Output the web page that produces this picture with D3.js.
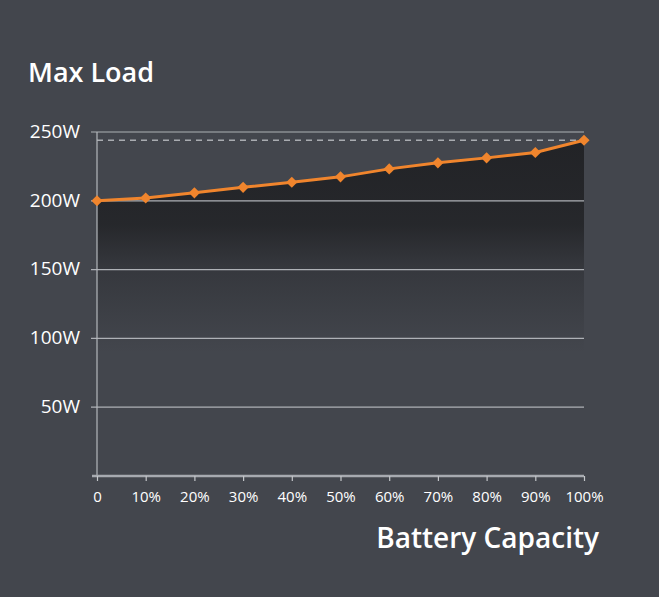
<!DOCTYPE html>
<html>
<head>
<meta charset="utf-8">
<script src="https://cdn.jsdelivr.net/npm/d3@7"></script>
<style>
  html, body { margin: 0; padding: 0; background: #43464d; }
  svg { display: block; font-family: "Open Sans", "Noto Sans", sans-serif; }
</style>
</head>
<body>
<div id="chart"></div>
<script>
// data
var capacity = ["0", "10%", "20%", "30%", "40%", "50%", "60%", "70%", "80%", "90%", "100%"];
var maxLoad = [200, 202, 205.8, 209.8, 213.5, 217.4, 223.2, 227.6, 231.2, 235.1, 244];
var yTicks = [50, 100, 150, 200, 250];
var limitValue = 244;

var W = 659, H = 597;
var margin = {left: 97, right: 75, top: 132, bottom: 121};

var svg = d3.select("#chart").append("svg")
    .attr("width", W)
    .attr("height", H);

svg.append("rect").attr("width", W).attr("height", H).attr("fill", "#43464d");

var x = d3.scalePoint()
    .domain(capacity)
    .range([margin.left, W - margin.right]);

var y = d3.scaleLinear()
    .domain([0, 250])
    .range([H - margin.bottom, margin.top]);

// gradient for the area under the line
var defs = svg.append("defs");
var grad = defs.append("linearGradient")
    .attr("id", "fade")
    .attr("gradientUnits", "userSpaceOnUse")
    .attr("x1", 0).attr("x2", 0)
    .attr("y1", y(244)).attr("y2", y(90));
grad.append("stop").attr("offset", "0%").attr("stop-color", "#1f2023").attr("stop-opacity", 0.92);
grad.append("stop").attr("offset", "40%").attr("stop-color", "#1f2023").attr("stop-opacity", 0.8);
grad.append("stop").attr("offset", "60%").attr("stop-color", "#1f2023").attr("stop-opacity", 0.38);
grad.append("stop").attr("offset", "100%").attr("stop-color", "#1f2023").attr("stop-opacity", 0);

var area = d3.area()
    .x(function(d, i) { return x(capacity[i]); })
    .y0(y(0))
    .y1(function(d) { return y(d); });

svg.append("path")
    .datum(maxLoad)
    .attr("d", area)
    .attr("fill", "url(#fade)");

// horizontal grid lines
svg.append("g")
    .selectAll("line")
    .data(yTicks)
    .enter().append("line")
    .attr("x1", margin.left - 6)
    .attr("x2", W - margin.right)
    .attr("y1", function(d) { return y(d); })
    .attr("y2", function(d) { return y(d); })
    .attr("stroke", "#aeb1b6")
    .attr("stroke-width", 1.2);

// y tick labels
svg.append("g")
    .selectAll("text")
    .data(yTicks)
    .enter().append("text")
    .attr("x", 80)
    .attr("y", function(d) { return y(d); })
    .attr("dy", "0.3em")
    .attr("text-anchor", "end")
    .attr("fill", "#ffffff")
    .style("font-size", "19px")
    .style("font-weight", "500")
    .text(function(d) { return d + "W"; });

// dashed limit line
svg.append("line")
    .attr("x1", margin.left)
    .attr("x2", W - margin.right)
    .attr("y1", y(limitValue))
    .attr("y2", y(limitValue))
    .attr("stroke", "#a9acb1")
    .attr("stroke-width", 1.3)
    .attr("stroke-dasharray", "6,5");

// y axis line
svg.append("line")
    .attr("x1", margin.left).attr("x2", margin.left)
    .attr("y1", y(250)).attr("y2", y(0))
    .attr("stroke", "#b4b7bc")
    .attr("stroke-width", 1.2);

// x axis
var xAxis = svg.append("g")
    .attr("transform", "translate(0," + y(0) + ")")
    .call(d3.axisBottom(x).tickSize(5).tickPadding(10));
xAxis.select(".domain")
    .attr("d", "M" + (margin.left - 5) + ",0H" + (W - margin.right))
    .attr("stroke", "#a7aab0")
    .attr("stroke-width", 2.5);
xAxis.selectAll(".tick line").attr("stroke", "#c4c6ca").attr("stroke-width", 1.2);
xAxis.selectAll(".tick text")
    .attr("fill", "#ffffff")
    .style("font-size", "15px")
    .style("font-weight", "500")
    .style("font-family", "\"Open Sans\", sans-serif");

// line
var line = d3.line()
    .x(function(d, i) { return x(capacity[i]); })
    .y(function(d) { return y(d); });

svg.append("path")
    .datum(maxLoad)
    .attr("d", line)
    .attr("fill", "none")
    .attr("stroke", "#f0852d")
    .attr("stroke-width", 3);

// diamond markers (rotated squares)
svg.append("g")
    .selectAll("path")
    .data(maxLoad)
    .enter().append("path")
    .attr("d", d3.symbol().type(d3.symbolSquare).size(62))
    .attr("transform", function(d, i) {
        return "translate(" + x(capacity[i]) + "," + y(d) + ") rotate(45)";
    })
    .attr("fill", "#f0852d");

// titles
svg.append("text")
    .attr("x", 28)
    .attr("y", 82)
    .attr("fill", "#ffffff")
    .style("font-size", "27px")
    .style("font-weight", "600")
    .text("Max Load");

svg.append("text")
    .attr("x", 599)
    .attr("y", 548)
    .attr("text-anchor", "end")
    .attr("fill", "#ffffff")
    .style("font-size", "28px")
    .style("font-weight", "600")
    .text("Battery Capacity");
</script>
</body>
</html>
